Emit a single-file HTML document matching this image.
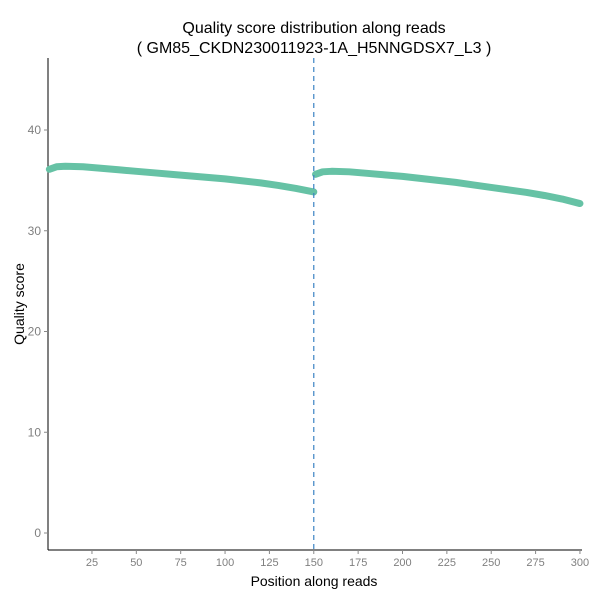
<!DOCTYPE html>
<html><head><meta charset="utf-8"><style>
body{margin:0;background:#fff;font-family:"Liberation Sans",sans-serif}
</style></head><body>
<svg id="chart" width="600" height="600" xmlns="http://www.w3.org/2000/svg">
<text x="314" y="33" text-anchor="middle" font-size="16">Quality score distribution along reads</text>
<text x="314" y="53" text-anchor="middle" font-size="16">( GM85_CKDN230011923-1A_H5NNGDSX7_L3 )</text>
<g id="plot"></g>
<text x="314" y="586" text-anchor="middle" font-size="14">Position along reads</text>
<text transform="translate(24,304) rotate(-90)" text-anchor="middle" font-size="14">Quality score</text>
</svg>
<script>
const read1Pos=[1,5,10,20,30,40,50,60,70,80,90,100,110,120,130,140,150];
const read1Val=[36.1,36.35,36.4,36.35,36.2,36.05,35.9,35.75,35.6,35.45,35.3,35.15,34.95,34.75,34.5,34.2,33.85];
const read2Pos=[151,155,160,170,180,190,200,210,220,230,240,250,260,270,280,290,300];
const read2Val=[35.6,35.85,35.9,35.85,35.7,35.55,35.4,35.2,35.0,34.8,34.55,34.3,34.05,33.8,33.5,33.15,32.7];
const xTicks=[25,50,75,100,125,150,175,200,225,250,275,300];
const yTicks=[0,10,20,30,40];
const NS="http://www.w3.org/2000/svg";
const x=v=>47.6+v*1.7745, y=v=>533-v*10.075;
const g=document.getElementById('plot');
function mk(t,a){const e=document.createElementNS(NS,t);for(const k in a)e.setAttribute(k,a[k]);g.appendChild(e);return e;}
let e=mk('line',{x1:48,y1:58,x2:48,y2:550,stroke:'#000','stroke-width':1});


e=mk('line',{x1:48,y1:550,x2:582,y2:550,stroke:'#000','stroke-width':1});


xTicks.forEach(t=>{
 const l=mk('line',{x1:x(t),y1:550,x2:x(t),y2:554,stroke:'#888'});
 
 
 const s=mk('text',{x:x(t),y:566,'text-anchor':'middle','font-size':11,fill:'#7f7f7f'});s.textContent=t;
 
 
});
yTicks.forEach(t=>{
 const l=mk('line',{x1:44,y1:y(t),x2:48,y2:y(t),stroke:'#888'});
 
 
 const s=mk('text',{x:41,y:y(t)+4,'text-anchor':'end','font-size':12,fill:'#7f7f7f'});s.textContent=t;
 
 
});
[[read1Pos,read1Val,'read1-series'],[read2Pos,read2Val,'read2-series']].forEach(([p,v,n])=>{
 const pl=mk('polyline',{points:p.map((q,i)=>x(q)+','+y(v[i])).join(' '),fill:'none',stroke:'#66c2a5','stroke-width':7,'stroke-linecap':'round','stroke-linejoin':'round'});
 
 
});
e=mk('line',{x1:x(150),y1:58,x2:x(150),y2:550,stroke:'#3b82c4','stroke-width':1.2,'stroke-dasharray':'5,4'});


</script>
</body></html>
